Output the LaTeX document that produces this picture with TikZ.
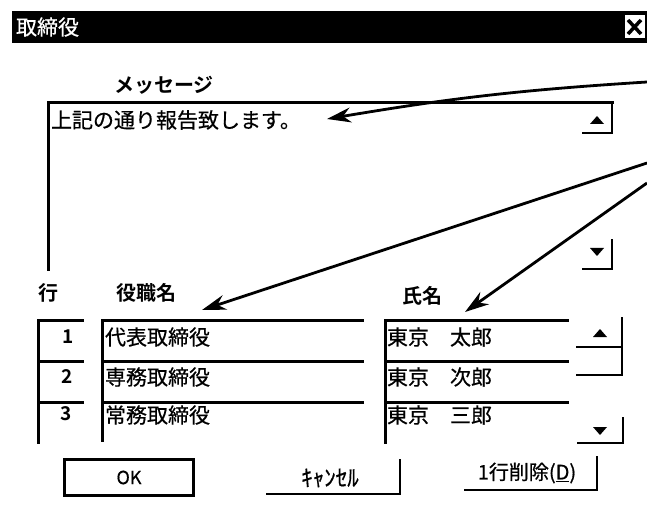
\documentclass[tikz,border=0pt]{standalone}
\usepackage{fontspec}
\setmainfont{Noto Sans CJK JP}
\newfontfamily\jp[FakeBold=0.6]{Noto Sans CJK JP}
\newfontfamily\jpb{Noto Sans CJK JP Bold}
\usetikzlibrary{arrows.meta}
\begin{document}
\begin{tikzpicture}[x=1pt,y=-1pt,
  every node/.style={inner sep=0pt,outer sep=0pt},
  txt/.style={font=\jp\fontsize{21}{23}\selectfont,anchor=west},
  hdr/.style={font=\jpb\fontsize{20}{22}\selectfont,anchor=west},
  num/.style={font=\jpb\fontsize{19}{21}\selectfont},
  frame/.style={line width=3pt,line cap=rect},
  thin/.style={line width=2.2pt,line cap=rect},
  callout/.style={line width=2.8pt,-{Stealth[length=24pt,width=15pt]}}
]
\useasboundingbox (0,0) rectangle (647,510);
\fill[white] (0,0) rectangle (647,510);

% title bar
\fill[black] (12,11) rectangle (647,43);
\node[font=\jp\fontsize{21}{23}\selectfont,text=white,anchor=west] (title) at (16,27) {取締役};
\node[draw=black,fill=white,line width=1pt,minimum width=21pt,minimum height=24pt] (close) at (634.5,27) {};
\draw[line width=3.5pt] ([shift={(4,5)}]close.north west) -- ([shift={(-4,-5)}]close.south east);
\draw[line width=3.5pt] ([shift={(-4,5)}]close.north east) -- ([shift={(4,-5)}]close.south west);

% message label and box
\node[hdr] (msglbl) at (114,85) {メッセージ};
\draw[frame] (48,270) -- (48,103) -- (612,103);
\node[txt] (msg) at (51,120) {上記の通り報告致します。};
% message scroll buttons
\draw[thin] (612,103) -- (612,133) -- (583,133);
\fill (590,124) -- (604,124) -- (597,116) -- cycle;
\draw[thin] (612,240) -- (612,269) -- (583,269);
\fill (590,248) -- (604,248) -- (597,256) -- cycle;

% table headers
\node[hdr,anchor=center] (hrow) at (48,293) {行};
\node[hdr] (hrole) at (116,293) {役職名};
\node[hdr] (hname) at (402,296) {氏名};

% row number column
\foreach \t in {320,361,402}{
  \draw[frame] (38,\t+40) -- (38,\t) -- (82,\t);
}
\draw[frame] (38,402) -- (38,438);
\node[num] (n1) at (68,337) {1};
\node[num] (n2) at (67,377) {2};
\node[num] (n3) at (66,414) {3};

% role column
\draw[frame] (102,320) -- (102,440);
\foreach \t in {320,361,402}{ \draw[frame] (102,\t) -- (362,\t); }
\node[txt] (r1) at (105,337) {代表取締役};
\node[txt] (r2) at (105,377) {専務取締役};
\node[txt] (r3) at (105,415) {常務取締役};

% name column
\draw[frame] (385,320) -- (385,442);
\foreach \t in {320,361,402}{ \draw[frame] (385,\t) -- (567,\t); }
\node[txt] (m1) at (387,337) {東京　太郎};
\node[txt] (m2) at (387,377) {東京　次郎};
\node[txt] (m3) at (387,415) {東京　三郎};

% table scroll buttons
\draw[thin] (622,318) -- (622,375) -- (577,375);
\draw[thin] (577,347) -- (622,347);
\fill (593,337) -- (607,337) -- (600,329) -- cycle;
\draw[thin] (623,418) -- (623,443) -- (578,443);
\fill (593,427) -- (607,427) -- (600,435) -- cycle;

% buttons
\node[draw=black,line width=3pt,minimum width=129pt,minimum height=36pt,
      font=\jp\fontsize{18}{20}\selectfont] (ok) at (129,477.5) {OK};
\draw[thin] (267,494) -- (400,494) -- (400,460);
\node[font=\jp\fontsize{23}{25}\selectfont] (cancel) at (330,478) {ｷｬﾝｾﾙ};
\draw[thin] (465,490) -- (597,490) -- (597,457);
\node[font=\jp\fontsize{20}{22}\selectfont] (del) at (527,473) {1行削除(\underline{D})};

% callout arrows
\coordinate (s1) at (647,82);
\coordinate (s2) at (647,163);
\coordinate (s3) at (647,183);
\coordinate (e1) at (327,119);
\coordinate (e2) at (202,310);
\coordinate (e3) at (465,312);
\draw[callout] (s1) to[bend right=3] (e1);
\draw[callout] (s2) -- (e2);
\draw[callout] (s3) -- (e3);
\end{tikzpicture}
\end{document}
